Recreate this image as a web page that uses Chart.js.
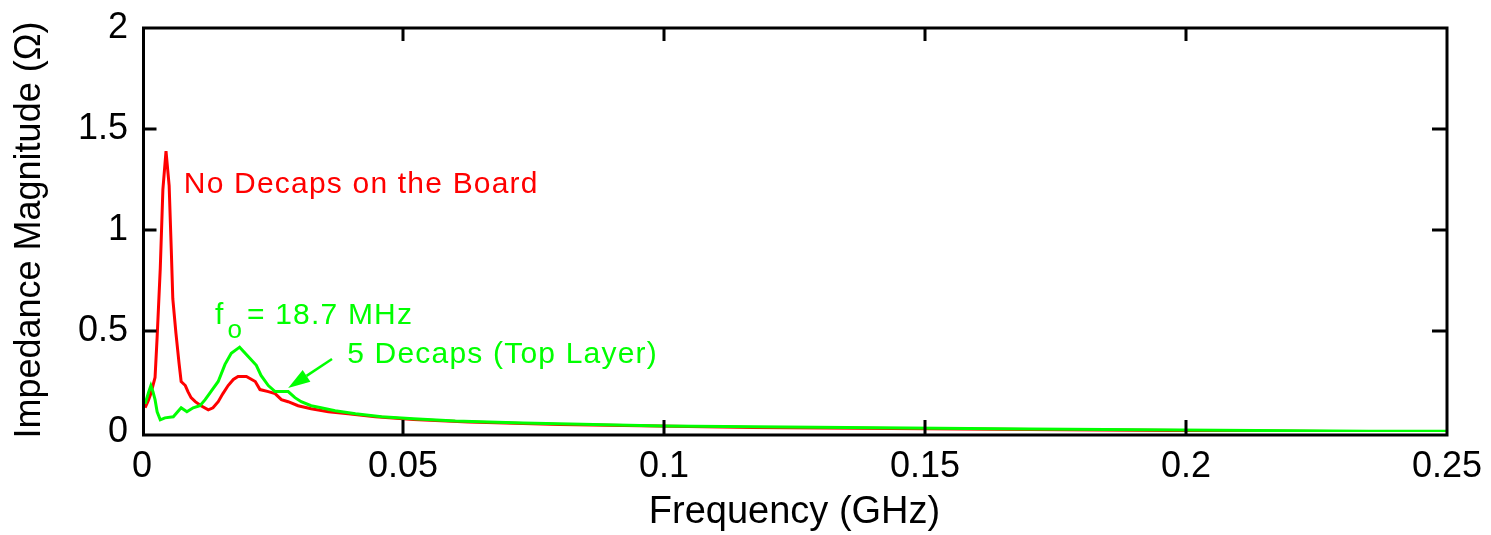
<!DOCTYPE html>
<html>
<head>
<meta charset="utf-8">
<title>Impedance Magnitude</title>
<script src="https://cdn.jsdelivr.net/npm/chart.js@4"></script>
<style>
  html, body { margin: 0; padding: 0; background: #fff; }
  #wrap { width: 1491px; height: 535px; }
</style>
</head>
<body>
<div id="wrap"><canvas id="chart" width="1491" height="535"></canvas></div>
<script>
// 坐标轴刻度
const xTickValues = [0, 0.05, 0.1, 0.15, 0.2, 0.25];
const xTickLabels = ['0', '0.05', '0.1', '0.15', '0.2', '0.25'];
const yTickValues = [0, 0.5, 1, 1.5, 2];
const yTickLabels = ['0', '0.5', '1', '1.5', '2'];

// 无去耦电容 (红线)
const redFreq = [0.0006, 0.0012, 0.0017, 0.0025, 0.0029, 0.0035, 0.0040, 0.0046, 0.0052, 0.0056,
  0.0059, 0.0065, 0.0071, 0.0075, 0.0083, 0.0088, 0.0094, 0.0102, 0.0113, 0.0127,
  0.0136, 0.0146, 0.0155, 0.0165, 0.0175, 0.0184, 0.0200, 0.0217, 0.0226, 0.0242,
  0.0255, 0.0267, 0.0280, 0.0299, 0.0324, 0.0357, 0.0395, 0.0447, 0.0520, 0.0625,
  0.0800, 0.1170, 0.1700, 0.2280, 0.2500];
const redZ = [0.12, 0.155, 0.19, 0.27, 0.47, 0.81, 1.2, 1.39, 1.22, 0.91,
  0.66, 0.49, 0.34, 0.25, 0.23, 0.2, 0.17, 0.15, 0.13, 0.11,
  0.12, 0.15, 0.19, 0.23, 0.26, 0.275, 0.275, 0.25, 0.21, 0.2,
  0.19, 0.16, 0.15, 0.13, 0.115, 0.1, 0.09, 0.075, 0.062, 0.05,
  0.037, 0.022, 0.012, 0.002, 0.002];

// 5 个去耦电容 (绿线)
const greenFreq = [0.0006, 0.0013, 0.0017, 0.0021, 0.0025, 0.0029, 0.0035, 0.0044, 0.0060, 0.0065,
  0.0075, 0.0086, 0.0098, 0.0111, 0.0121, 0.0132, 0.0146, 0.0159, 0.0171, 0.0187,
  0.0203, 0.0219, 0.0228, 0.0242, 0.0255, 0.0280, 0.0293, 0.0305, 0.0324, 0.0343,
  0.0370, 0.0409, 0.0459, 0.0520, 0.0600, 0.0730, 0.1000, 0.1700, 0.2350, 0.2500];
const greenZ = [0.14, 0.2, 0.23, 0.2, 0.16, 0.1, 0.06, 0.07, 0.075, 0.09,
  0.12, 0.1, 0.12, 0.13, 0.16, 0.2, 0.25, 0.335, 0.39, 0.42,
  0.375, 0.33, 0.28, 0.23, 0.2, 0.2, 0.17, 0.15, 0.13, 0.12,
  0.105, 0.09, 0.075, 0.065, 0.054, 0.044, 0.03, 0.015, 0.004, 0.004];

const RED = '#ff0000';
const GREEN = '#00ff00';
const FONT = '"Liberation Sans", Arial, Helvetica, sans-serif';

function toPoints(xs, ys) {
  return xs.map((x, i) => ({ x: x, y: ys[i] }));
}

// 不让刻度标签改变绘图区
function noLabelPadding(scale) {
  scale.paddingTop = 0;
  scale.paddingBottom = 0;
  scale.paddingLeft = 0;
  scale.paddingRight = 0;
}

// 坐标框、向内刻度和注释文字
const boxPlugin = {
  id: 'boxPlugin',
  afterDraw(chart) {
    const ctx = chart.ctx;
    const a = chart.chartArea;
    const xs = chart.scales.x;
    const ys = chart.scales.y;
    const left = a.left + 1.5, right = a.right, top = a.top, bottom = a.bottom + 3;

    ctx.save();
    ctx.strokeStyle = '#000';
    ctx.lineWidth = 3;
    ctx.lineCap = 'square';
    ctx.beginPath();
    ctx.moveTo(left, top); ctx.lineTo(right, top);
    ctx.lineTo(right, bottom); ctx.lineTo(left, bottom);
    ctx.closePath();
    ctx.stroke();

    ctx.lineCap = 'butt';
    ctx.beginPath();
    xTickValues.forEach(v => {
      const px = xs.getPixelForValue(v);
      if (v > 0 && v < 0.25) {
        ctx.moveTo(px, bottom); ctx.lineTo(px, bottom - 15);
        ctx.moveTo(px, top); ctx.lineTo(px, top + 13);
      }
    });
    yTickValues.forEach(v => {
      const py = ys.getPixelForValue(v);
      if (v > 0 && v < 2) {
        ctx.moveTo(left, py); ctx.lineTo(left + 13, py);
        ctx.moveTo(right, py); ctx.lineTo(right - 15, py);
      }
    });
    ctx.stroke();

    // 注释
    ctx.textBaseline = 'alphabetic';
    ctx.textAlign = 'left';
    ctx.letterSpacing = '1.2px';
    ctx.font = '30px ' + FONT;
    ctx.fillStyle = RED;
    ctx.fillText('No Decaps on the Board', xs.getPixelForValue(0.0080), ys.getPixelForValue(1.183));

    ctx.fillStyle = GREEN;
    ctx.fillText('f', xs.getPixelForValue(0.0140), ys.getPixelForValue(0.535));
    ctx.fillText('= 18.7 MHz', xs.getPixelForValue(0.0201), ys.getPixelForValue(0.535));
    ctx.fillText('5 Decaps (Top Layer)', xs.getPixelForValue(0.0393), ys.getPixelForValue(0.342));
    ctx.font = '26px ' + FONT;
    ctx.fillText('o', xs.getPixelForValue(0.0164), ys.getPixelForValue(0.465));

    // 箭头
    const x0 = xs.getPixelForValue(0.0364), y0 = ys.getPixelForValue(0.361);
    const x1 = xs.getPixelForValue(0.0280), y1 = ys.getPixelForValue(0.218);
    const len = Math.hypot(x1 - x0, y1 - y0);
    const ux = (x1 - x0) / len, uy = (y1 - y0) / len;
    const bx = x1 - ux * 22, by = y1 - uy * 22;
    ctx.strokeStyle = GREEN;
    ctx.lineWidth = 2.5;
    ctx.beginPath();
    ctx.moveTo(x0, y0); ctx.lineTo(bx, by);
    ctx.stroke();
    ctx.beginPath();
    ctx.moveTo(x1, y1);
    ctx.lineTo(bx - uy * 7, by + ux * 7);
    ctx.lineTo(bx + uy * 7, by - ux * 7);
    ctx.closePath();
    ctx.fill();
    ctx.restore();
  }
};

new Chart(document.getElementById('chart').getContext('2d'), {
  type: 'line',
  data: {
    datasets: [
      {
        label: 'No Decaps on the Board',
        data: toPoints(redFreq, redZ),
        borderColor: RED,
        borderWidth: 3,
        pointRadius: 0,
        tension: 0,
        fill: false,
        order: 1
      },
      {
        label: '5 Decaps (Top Layer)',
        data: toPoints(greenFreq, greenZ),
        borderColor: GREEN,
        borderWidth: 3,
        pointRadius: 0,
        tension: 0,
        fill: false,
        order: 0
      }
    ]
  },
  options: {
    responsive: false,
    animation: false,
    layout: { padding: { left: 0, right: 44, top: 28, bottom: 0 } },
    plugins: {
      legend: { display: false },
      tooltip: { enabled: false }
    },
    scales: {
      x: {
        type: 'linear',
        min: 0,
        max: 0.25,
        afterBuildTicks: scale => { scale.ticks = xTickValues.map(v => ({ value: v })); },
        afterFit: scale => { scale.height = 103; noLabelPadding(scale); },
        grid: { display: false, drawTicks: false },
        border: { display: false },
        ticks: {
          autoSkip: false,
          maxRotation: 0,
          padding: 13,
          color: '#000',
          font: { family: FONT, size: 36 },
          callback: (v, i) => xTickLabels[i]
        },
        title: {
          display: true,
          text: 'Frequency (GHz)',
          color: '#000',
          font: { family: FONT, size: 38 },
          padding: { top: 0, bottom: 0 }
        }
      },
      y: {
        type: 'linear',
        min: 0,
        max: 2,
        afterBuildTicks: scale => { scale.ticks = yTickValues.map(v => ({ value: v })); },
        afterFit: scale => { scale.width = 142; noLabelPadding(scale); },
        grid: { display: false, drawTicks: false },
        border: { display: false },
        ticks: {
          autoSkip: false,
          padding: 14,
          color: '#000',
          font: { family: FONT, size: 36 },
          callback: (v, i) => yTickLabels[i]
        },
        title: {
          display: true,
          text: 'Impedance Magnitude (Ω)',
          color: '#000',
          font: { family: FONT, size: 36 },
          padding: { top: 8, bottom: 0 }
        }
      }
    }
  },
  plugins: [boxPlugin]
});
</script>
</body>
</html>
